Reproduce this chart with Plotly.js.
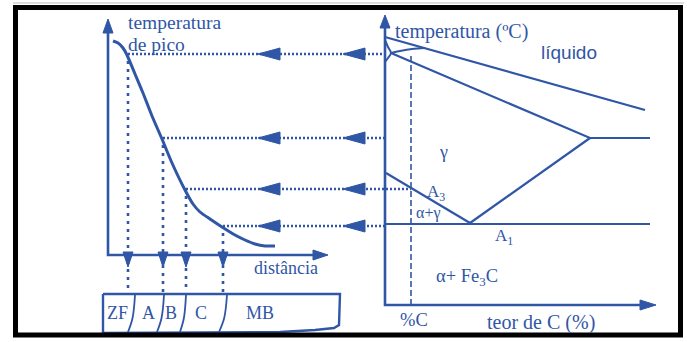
<!DOCTYPE html>
<html>
<head>
<meta charset="utf-8">
<script src="https://cdn.plot.ly/plotly-3.0.1.min.js"></script>
<style>html,body{margin:0;padding:0;background:#fff;}#chart{width:687px;height:342px;}</style>
</head>
<body>
<div id="chart"></div>
<script>
// ---- schematic data (drawing units = picture units) ----
// peak temperature vs distance curve (left panel)
const peakCurveX = [113, 118, 123, 127, 135, 143, 152, 162, 172, 185, 193, 200, 210, 222, 235, 245, 255, 265, 275];
const peakCurveY = [41, 43, 48, 55, 74, 93, 116, 139, 163, 190, 204, 212, 219, 227, 235, 240, 244, 246, 246];
// temperature levels and the matching points on the curve
const levelY = [54, 138, 189, 226];
const levelX = [128, 163, 186, 223];
const levelEndX = [385, 385, 411, 385];
// zones of the joint
const zoneLabels = ['ZF', 'A', 'B', 'C', 'MB'];
const zoneLabelX = [117, 148, 171, 201, 260];
const zoneDivTopX = [135, 164, 186, 227];
const zoneDivBotX = [128, 157, 180, 219];
// Fe-C diagram lines (right panel)
const liquidusX = [385, 645];
const liquidusY = [37, 110];
const solidusX = [391, 590, 650];
const solidusY = [53, 138, 138];
const deltaX = [385, 388, 391, 388, 385];
const deltaY = [40, 47, 53, 58, 62];
const peritecticX = [391, 400, 412, 425];
const peritecticY = [53, 51, 49, 48];
const a3X = [386, 470];
const a3Y = [173, 223];
const acmX = [470, 590];
const acmY = [223, 138];
const a1X = [385, 650];
const a1Y = [224, 224];
const carbonX = 411;

const BLUE = '#3056a6';
const traces = [];
function line(x, y, opts) {
  traces.push(Object.assign({type: 'scatter', mode: 'lines', x: x, y: y, hoverinfo: 'skip',
    line: Object.assign({color: BLUE, width: 2.2}, opts || {})}));
}
function head(tx, ty, dir, len, half) {
  let x, y;
  if (dir === 'left') { x = [tx, tx + len, tx + len, tx]; y = [ty, ty - half, ty + half, ty]; }
  if (dir === 'right') { x = [tx, tx - len, tx - len, tx]; y = [ty, ty - half, ty + half, ty]; }
  if (dir === 'up') { x = [tx, tx - half, tx + half, tx]; y = [ty, ty + len, ty + len, ty]; }
  if (dir === 'down') { x = [tx, tx - half, tx + half, tx]; y = [ty, ty - len, ty - len, ty]; }
  traces.push({type: 'scatter', mode: 'lines', x: x, y: y, fill: 'toself', fillcolor: BLUE,
    line: {color: BLUE, width: 1}, hoverinfo: 'skip'});
}

// left axes
line([108, 108, 320], [26, 255, 255], {width: 2.6});
head(108, 19, 'up', 14, 5);
head(328, 255, 'right', 15, 5);
// curve
line(peakCurveX, peakCurveY, {width: 3, shape: 'spline', smoothing: 0.6});
// levels: horizontal dotted lines and arrows
levelY.forEach((yv, i) => {
  line([levelX[i], levelEndX[i]], [yv, yv], {width: 2.6, dash: '2px,2px'});
  head(258, yv, 'left', 22, 6);
  head(343, yv, 'left', 22, 6);
  line([levelX[i], levelX[i]], [yv + 7, 292], {width: 2.6, dash: '3px,5px'});
  head(levelX[i], 267, 'down', 15, 5);
});
// zone box
line([103, 340, 339, 334, 315, 280, 103, 103], [294, 294, 325, 328, 330, 332, 333, 294], {width: 2.4});
zoneDivTopX.forEach((xt, i) => {
  const xb = zoneDivBotX[i];
  line([xt, xt - (xt - xb) * 0.35, xb], [295, 318, 332], {width: 1.8, shape: 'spline'});
});

// right panel axes
line([385, 385, 645], [27, 305, 305], {width: 2.6});
head(385, 15, 'up', 13, 5);
head(656, 305, 'right', 16, 5);
// phase lines
line(liquidusX, liquidusY, {width: 2.2});
line(solidusX, solidusY, {width: 2.2});
line(deltaX, deltaY, {width: 2, shape: 'spline'});
line(peritecticX, peritecticY, {width: 1.8, shape: 'spline'});
line(a3X, a3Y, {width: 2.2});
line(acmX, acmY, {width: 2.2});
line(a1X, a1Y, {width: 1.8});
line([carbonX, carbonX], [56, 305], {width: 1.6, dash: '6px,3px'});

const SERIF = 'Liberation Serif, Times New Roman, serif';
function txt(x, y, t, size, anchor, fam) {
  return {x: x, y: y, text: t, showarrow: false, xanchor: anchor || 'center', yanchor: 'middle',
    font: {family: fam || SERIF, size: size || 18, color: BLUE}};
}
const annotations = [
  txt(126, 22, 'temperatura', 19.5, 'left'),
  txt(126, 44, 'de pico', 19.5, 'left'),
  txt(286, 268, 'distância', 18),
  txt(393, 31, 'temperatura (ºC)', 20, 'left'),
  txt(569, 52, 'líquido', 19, 'center', 'Liberation Sans, Arial, sans-serif'),
  txt(443, 152, 'γ', 18),
  txt(436, 193, 'A<sub>3</sub>', 17),
  txt(428, 213, 'α+γ', 16),
  txt(504, 237, 'A<sub>1</sub>', 17),
  txt(467, 277, 'α+ Fe<sub>3</sub>C', 18.5),
  txt(414, 320, '%C', 18.5),
  txt(541, 322, 'teor de C (%)', 20)
];
zoneLabels.forEach((z, i) => annotations.push(txt(zoneLabelX[i], 313, z, 18)));

const layout = {
  width: 687, height: 342, margin: {l: 0, r: 0, t: 0, b: 0},
  paper_bgcolor: '#fff', plot_bgcolor: '#fff', showlegend: false,
  xaxis: {range: [0, 687], visible: false, fixedrange: true},
  yaxis: {range: [342, 0], visible: false, fixedrange: true},
  annotations: annotations,
  shapes: [
    {type: 'line', xref: 'x', yref: 'y', x0: 13, x1: 684, y0: 3, y1: 3, line: {color: '#bbb', width: 1}},
    {type: 'rect', xref: 'x', yref: 'y', x0: 15.5, x1: 680.5, y0: 7.5, y1: 335, line: {color: '#000', width: 5}}
  ]
};
Plotly.newPlot('chart', traces, layout, {staticPlot: true, displayModeBar: false});
</script>
</body>
</html>
